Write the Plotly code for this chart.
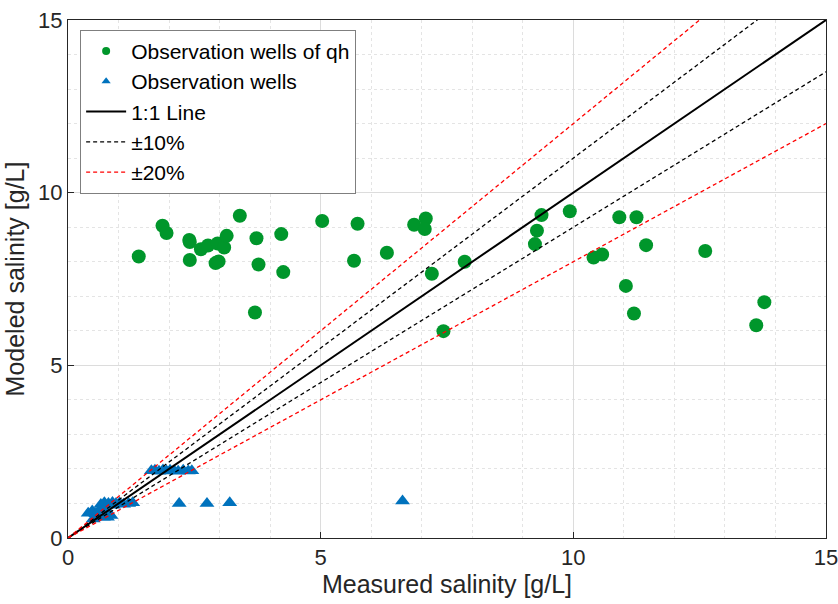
import plotly.graph_objects as go

# Observation wells of qh: measured vs modeled salinity (g/L)
qh_measured = [1.40, 1.87, 1.95, 2.40, 2.41, 2.41, 2.63, 2.77, 2.96, 3.09, 3.14, 2.92, 2.98,
               3.40, 3.73, 3.77, 3.70, 4.22, 4.26, 5.03, 5.73, 5.66, 6.31, 6.85, 7.08, 7.06,
               7.20, 7.85, 7.43, 9.37, 9.28, 9.24, 9.93, 10.91, 11.25, 11.44, 10.40, 10.57,
               11.04, 11.20, 12.61, 13.78, 13.62]
qh_modeled = [8.15, 9.04, 8.83, 8.63, 8.57, 8.05, 8.36, 8.47, 8.53, 8.41, 8.75, 7.96, 8.01,
              9.33, 8.68, 7.92, 6.53, 8.80, 7.70, 9.18, 9.10, 8.03, 8.26, 9.07, 9.25, 8.95,
              7.65, 8.00, 5.99, 9.35, 8.90, 8.51, 9.46, 9.29, 9.29, 8.48, 8.12, 8.21,
              7.30, 6.50, 8.31, 6.83, 6.16]

# Observation wells: measured vs modeled salinity (g/L)
obs_measured = [0.65, 0.72, 0.80, 0.88, 0.95, 1.02, 1.10, 1.20, 1.28, 0.90,
                0.40, 0.48, 0.55, 0.60, 0.70, 0.78, 0.85, 0.50, 0.62, 0.72,
                1.65, 1.72, 1.80, 1.88, 1.95, 2.02, 2.10, 2.18, 2.28, 2.38, 2.45,
                2.20, 2.75, 3.20, 6.62]
obs_modeled = [0.97, 1.02, 1.00, 1.03, 1.00, 1.01, 0.98, 1.00, 1.02, 0.95,
               0.72, 0.78, 0.70, 0.62, 0.60, 0.60, 0.65, 0.55, 0.80, 0.85,
               1.95, 1.96, 1.93, 1.97, 1.94, 1.96, 1.95, 1.93, 1.96, 1.94, 1.95,
               1.00, 1.00, 1.02, 1.07]

# Reference lines
ref_x = [0, 15]
ratio_10 = [1.1, 0.9]
ratio_20 = [1.2, 0.8]

GREEN = "#00962b"
BLUE = "#0072bd"
TXT = "#262626"
FONT = "Liberation Sans, Arial, sans-serif"

fig = go.Figure()

fig.add_trace(go.Scatter(x=qh_measured, y=qh_modeled, mode="markers",
                         marker=dict(symbol="circle", size=14, color=GREEN),
                         showlegend=False, legendgroup="qh"))
fig.add_trace(go.Scatter(x=obs_measured, y=obs_modeled, mode="markers",
                         marker=dict(symbol="triangle-up", size=13, color=BLUE),
                         showlegend=False, legendgroup="obs"))

fig.add_trace(go.Scatter(x=ref_x, y=ref_x, mode="lines",
                         line=dict(color="black", width=2),
                         showlegend=False, legendgroup="one"))
for r in ratio_10:
    fig.add_trace(go.Scatter(x=ref_x, y=[v * r for v in ref_x], mode="lines",
                             line=dict(color="black", width=1.3, dash="4px,3px"),
                             showlegend=False, legendgroup="p10"))
for r in ratio_20:
    fig.add_trace(go.Scatter(x=ref_x, y=[v * r for v in ref_x], mode="lines",
                             line=dict(color="red", width=1.3, dash="4px,3px"),
                             showlegend=False, legendgroup="p20"))

# Legend entries with compact symbols
fig.add_trace(go.Scatter(x=[None], y=[None], mode="markers", name="Observation wells of qh",
                         marker=dict(symbol="circle", size=8, color=GREEN), legendgroup="qh"))
fig.add_trace(go.Scatter(x=[None], y=[None], mode="markers", name="Observation wells",
                         marker=dict(symbol="triangle-up", size=8, color=BLUE), legendgroup="obs"))
fig.add_trace(go.Scatter(x=[None], y=[None], mode="lines", name="1:1 Line",
                         line=dict(color="black", width=2), legendgroup="one"))
fig.add_trace(go.Scatter(x=[None], y=[None], mode="lines", name="±10%",
                         line=dict(color="black", width=1.3, dash="4px,3px"), legendgroup="p10"))
fig.add_trace(go.Scatter(x=[None], y=[None], mode="lines", name="±20%",
                         line=dict(color="red", width=1.3, dash="4px,3px"), legendgroup="p20"))

axis_common = dict(
    range=[0, 15], dtick=5, tick0=0, automargin=False, ticklabeloverflow="allow",
    showline=True, linecolor=TXT, linewidth=1, mirror=True,
    ticks="inside", ticklen=6, tickcolor=TXT,
    showgrid=True, gridcolor="#dcdcdc", gridwidth=1,
    zeroline=False,
    minor=dict(dtick=1, showgrid=True, gridcolor="#e4e4e4", griddash="dot", gridwidth=1),
    tickfont=dict(family=FONT, size=22, color=TXT),
)

fig.update_layout(
    width=838, height=604,
    margin=dict(l=68, r=12, t=20, b=66),
    plot_bgcolor="white", paper_bgcolor="white",
    font=dict(family=FONT, color=TXT),
    xaxis=dict(axis_common, title=dict(text="Measured salinity [g/L]",
                                       font=dict(size=25, color=TXT), standoff=4)),
    yaxis=dict(axis_common, title=dict(text="Modeled salinity [g/L]",
                                       font=dict(size=25, color=TXT), standoff=6)),
    legend=dict(x=0.016, y=0.981, xanchor="left", yanchor="top",
                bgcolor="white", bordercolor="#7f7f7f", borderwidth=1,
                font=dict(size=21, color="black"), itemwidth=40,
                tracegroupgap=0),
)

fig.write_html("out.html")
